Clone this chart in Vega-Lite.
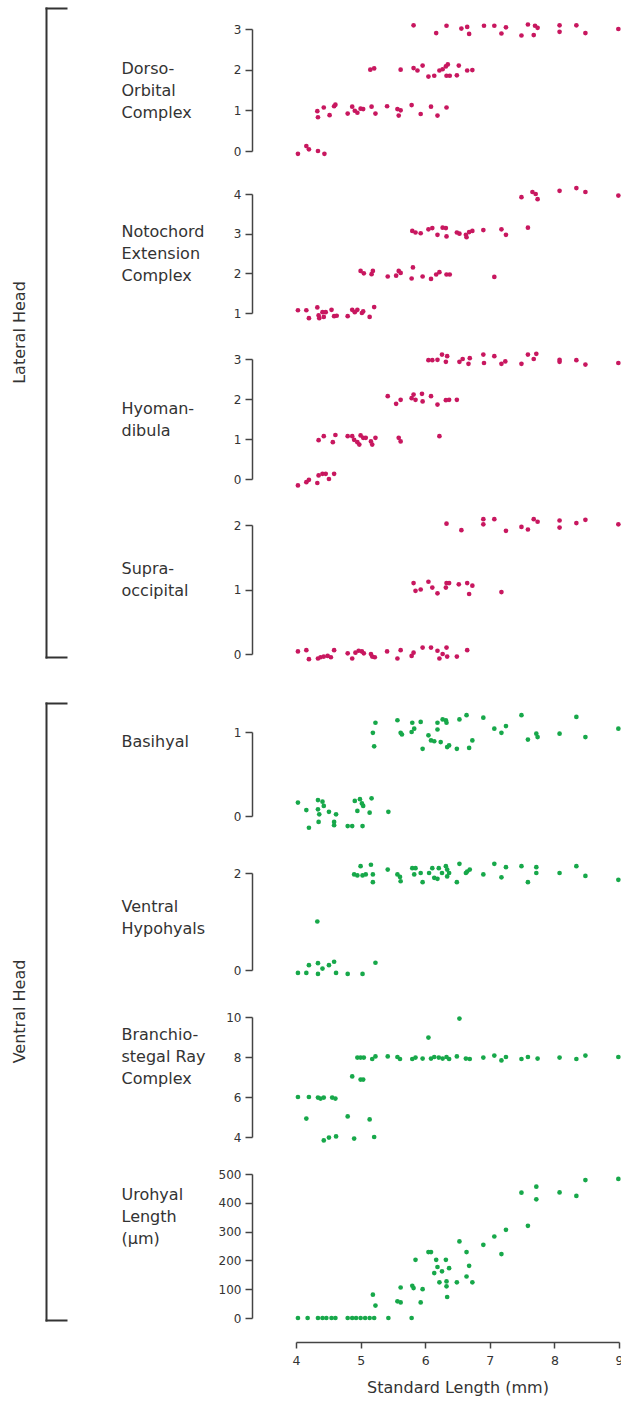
{
"$schema": "https://vega.github.io/schema/vega-lite/v6.json",
"padding": 0,
"background": "white",
"bounds": "flush",
"spacing": 296,
"resolve": {"scale": {"x": "independent", "y": "independent"}},
"config": {
  "view": {"stroke": null},
  "axis": {"labelFont": "DejaVu Sans", "labelFontSize": 12, "labelColor": "#333", "titleFont": "DejaVu Sans", "titleFontSize": 16, "titleFontWeight": "normal", "titleColor": "#333", "grid": false},
  "circle": {"size": 22, "opacity": 1}
},
"datasets": {
  "dorso": [{"sl":5.82,"val":3.09},{"sl":6.17,"val":2.90},{"sl":6.33,"val":3.08},{"sl":6.56,"val":3.01},{"sl":6.65,"val":3.05},{"sl":6.68,"val":2.88},{"sl":6.91,"val":3.08},{"sl":7.07,"val":3.08},{"sl":7.18,"val":2.89},{"sl":7.25,"val":3.04},{"sl":7.49,"val":2.84},{"sl":7.59,"val":3.11},{"sl":7.68,"val":2.85},{"sl":7.70,"val":3.08},{"sl":7.74,"val":3.03},{"sl":8.08,"val":3.09},{"sl":8.08,"val":2.93},{"sl":8.34,"val":3.09},{"sl":8.48,"val":2.90},{"sl":8.99,"val":3.00},
    {"sl":5.15,"val":2.00},{"sl":5.21,"val":2.03},{"sl":5.62,"val":2.00},{"sl":5.82,"val":2.04},{"sl":5.88,"val":1.98},{"sl":5.96,"val":2.10},{"sl":6.05,"val":1.83},{"sl":6.14,"val":1.85},{"sl":6.22,"val":1.98},{"sl":6.27,"val":2.01},{"sl":6.32,"val":2.08},{"sl":6.35,"val":2.13},{"sl":6.33,"val":1.85},{"sl":6.38,"val":1.85},{"sl":6.49,"val":1.86},{"sl":6.52,"val":2.10},{"sl":6.65,"val":1.98},{"sl":6.73,"val":1.99},
    {"sl":4.33,"val":0.98},{"sl":4.34,"val":0.83},{"sl":4.43,"val":1.07},{"sl":4.52,"val":0.88},{"sl":4.59,"val":1.10},{"sl":4.61,"val":1.14},{"sl":4.80,"val":0.92},{"sl":4.87,"val":1.09},{"sl":4.91,"val":0.99},{"sl":4.95,"val":0.94},{"sl":5.00,"val":1.04},{"sl":5.04,"val":1.03},{"sl":5.17,"val":1.09},{"sl":5.23,"val":0.92},{"sl":5.41,"val":1.10},{"sl":5.57,"val":1.03},{"sl":5.59,"val":0.87},{"sl":5.62,"val":1.00},{"sl":5.79,"val":1.13},{"sl":5.93,"val":0.91},{"sl":6.09,"val":1.09},{"sl":6.19,"val":0.87},{"sl":6.33,"val":1.07},
    {"sl":4.03,"val":-0.07},{"sl":4.16,"val":0.12},{"sl":4.20,"val":0.04},{"sl":4.34,"val":0.00},{"sl":4.44,"val":-0.07}],
  "noto": [{"sl":7.49,"val":3.92},{"sl":7.66,"val":4.05},{"sl":7.71,"val":4.00},{"sl":7.74,"val":3.87},{"sl":8.08,"val":4.08},{"sl":8.34,"val":4.15},{"sl":8.48,"val":4.05},{"sl":8.99,"val":3.96},
    {"sl":7.59,"val":3.15},{"sl":5.80,"val":3.07},{"sl":5.85,"val":3.03},{"sl":5.93,"val":3.01},{"sl":6.05,"val":3.11},{"sl":6.11,"val":3.14},{"sl":6.19,"val":2.97},{"sl":6.27,"val":3.15},{"sl":6.32,"val":3.14},{"sl":6.33,"val":2.93},{"sl":6.49,"val":3.03},{"sl":6.53,"val":3.00},{"sl":6.63,"val":2.97},{"sl":6.64,"val":2.91},{"sl":6.68,"val":3.04},{"sl":6.73,"val":3.07},{"sl":6.90,"val":3.09},{"sl":7.18,"val":3.11},{"sl":7.25,"val":2.97},
    {"sl":5.00,"val":2.06},{"sl":5.05,"val":2.00},{"sl":5.17,"val":1.98},{"sl":5.19,"val":2.06},{"sl":5.42,"val":1.92},{"sl":5.55,"val":1.94},{"sl":5.59,"val":2.06},{"sl":5.62,"val":2.01},{"sl":5.79,"val":1.87},{"sl":5.81,"val":2.15},{"sl":5.96,"val":1.92},{"sl":6.09,"val":1.86},{"sl":6.17,"val":1.97},{"sl":6.22,"val":2.03},{"sl":6.33,"val":1.97},{"sl":6.38,"val":1.97},{"sl":7.07,"val":1.91},
    {"sl":4.03,"val":1.07},{"sl":4.16,"val":1.07},{"sl":4.20,"val":0.87},{"sl":4.33,"val":1.14},{"sl":4.35,"val":0.94},{"sl":4.36,"val":0.87},{"sl":4.41,"val":1.02},{"sl":4.43,"val":0.90},{"sl":4.46,"val":1.02},{"sl":4.55,"val":1.08},{"sl":4.59,"val":0.92},{"sl":4.63,"val":0.93},{"sl":4.80,"val":0.92},{"sl":4.87,"val":1.08},{"sl":4.91,"val":1.02},{"sl":4.95,"val":1.08},{"sl":5.02,"val":1.00},{"sl":5.04,"val":1.04},{"sl":5.14,"val":0.90},{"sl":5.21,"val":1.15}],
  "hyo": [{"sl":6.05,"val":2.97},{"sl":6.11,"val":2.97},{"sl":6.19,"val":2.98},{"sl":6.26,"val":3.11},{"sl":6.32,"val":2.93},{"sl":6.34,"val":3.07},{"sl":6.53,"val":2.93},{"sl":6.58,"val":3.00},{"sl":6.67,"val":2.88},{"sl":6.69,"val":3.02},{"sl":6.90,"val":3.11},{"sl":6.91,"val":2.90},{"sl":7.07,"val":3.07},{"sl":7.18,"val":2.88},{"sl":7.24,"val":2.94},{"sl":7.49,"val":2.88},{"sl":7.59,"val":3.11},{"sl":7.68,"val":3.00},{"sl":7.72,"val":3.13},{"sl":8.08,"val":2.98},{"sl":8.08,"val":2.93},{"sl":8.34,"val":2.97},{"sl":8.48,"val":2.86},{"sl":8.99,"val":2.90},
    {"sl":5.42,"val":2.07},{"sl":5.55,"val":1.88},{"sl":5.62,"val":1.98},{"sl":5.79,"val":2.02},{"sl":5.82,"val":2.11},{"sl":5.85,"val":1.98},{"sl":5.95,"val":2.13},{"sl":5.96,"val":1.94},{"sl":6.09,"val":2.07},{"sl":6.19,"val":1.86},{"sl":6.32,"val":1.97},{"sl":6.37,"val":1.98},{"sl":6.49,"val":1.98},
    {"sl":4.35,"val":0.97},{"sl":4.43,"val":1.07},{"sl":4.57,"val":0.92},{"sl":4.61,"val":1.10},{"sl":4.80,"val":1.07},{"sl":4.87,"val":1.07},{"sl":4.90,"val":0.98},{"sl":4.95,"val":0.92},{"sl":4.98,"val":0.86},{"sl":5.00,"val":1.09},{"sl":5.04,"val":1.03},{"sl":5.08,"val":1.03},{"sl":5.16,"val":0.94},{"sl":5.18,"val":0.86},{"sl":5.23,"val":1.03},{"sl":5.59,"val":1.03},{"sl":5.62,"val":0.94},{"sl":6.22,"val":1.07},
    {"sl":4.03,"val":-0.16},{"sl":4.16,"val":-0.08},{"sl":4.20,"val":-0.02},{"sl":4.33,"val":-0.10},{"sl":4.35,"val":0.09},{"sl":4.41,"val":0.13},{"sl":4.46,"val":0.13},{"sl":4.51,"val":0.00},{"sl":4.59,"val":0.13}],
  "supra": [{"sl":6.33,"val":2.02},{"sl":6.56,"val":1.92},{"sl":6.90,"val":2.09},{"sl":6.90,"val":2.01},{"sl":7.07,"val":2.09},{"sl":7.25,"val":1.91},{"sl":7.49,"val":1.97},{"sl":7.59,"val":1.93},{"sl":7.68,"val":2.09},{"sl":7.74,"val":2.05},{"sl":8.08,"val":2.07},{"sl":8.08,"val":1.96},{"sl":8.34,"val":2.03},{"sl":8.48,"val":2.08},{"sl":8.99,"val":2.01},
    {"sl":5.82,"val":1.10},{"sl":5.85,"val":0.98},{"sl":5.93,"val":1.00},{"sl":6.05,"val":1.12},{"sl":6.11,"val":1.03},{"sl":6.19,"val":0.94},{"sl":6.32,"val":1.03},{"sl":6.33,"val":1.10},{"sl":6.37,"val":1.10},{"sl":6.52,"val":1.08},{"sl":6.65,"val":1.10},{"sl":6.68,"val":0.93},{"sl":6.73,"val":1.06},{"sl":7.18,"val":0.96},
    {"sl":4.03,"val":0.04},{"sl":4.16,"val":0.06},{"sl":4.20,"val":-0.08},{"sl":4.34,"val":-0.07},{"sl":4.38,"val":-0.05},{"sl":4.43,"val":-0.04},{"sl":4.49,"val":-0.03},{"sl":4.54,"val":-0.05},{"sl":4.59,"val":0.06},{"sl":4.80,"val":0.01},{"sl":4.87,"val":-0.07},{"sl":4.92,"val":0.02},{"sl":4.97,"val":0.05},{"sl":5.02,"val":0.04},{"sl":5.05,"val":0.01},{"sl":5.16,"val":0.00},{"sl":5.18,"val":-0.04},{"sl":5.22,"val":-0.05},{"sl":5.41,"val":0.04},{"sl":5.57,"val":-0.07},{"sl":5.62,"val":0.06},{"sl":5.79,"val":-0.03},{"sl":5.82,"val":0.02},{"sl":5.96,"val":0.10},{"sl":6.09,"val":0.10},{"sl":6.19,"val":0.05},{"sl":6.22,"val":-0.07},{"sl":6.27,"val":0.00},{"sl":6.33,"val":0.10},{"sl":6.34,"val":-0.04},{"sl":6.49,"val":-0.04},{"sl":6.65,"val":0.06}],
  "basi": [{"sl":5.23,"val":1.11},{"sl":5.19,"val":0.99},{"sl":5.21,"val":0.83},{"sl":5.57,"val":1.14},{"sl":5.62,"val":0.99},{"sl":5.64,"val":0.97},{"sl":5.80,"val":1.11},{"sl":5.79,"val":1.00},{"sl":5.83,"val":1.04},{"sl":5.93,"val":1.12},{"sl":5.96,"val":0.80},{"sl":6.05,"val":0.96},{"sl":6.09,"val":0.90},{"sl":6.14,"val":0.89},{"sl":6.19,"val":1.11},{"sl":6.19,"val":1.03},{"sl":6.24,"val":0.88},{"sl":6.27,"val":1.15},{"sl":6.32,"val":1.14},{"sl":6.33,"val":1.11},{"sl":6.34,"val":0.82},{"sl":6.37,"val":0.84},{"sl":6.49,"val":0.80},{"sl":6.53,"val":1.15},{"sl":6.64,"val":1.20},{"sl":6.68,"val":0.81},{"sl":6.73,"val":0.90},{"sl":6.90,"val":1.17},{"sl":7.07,"val":1.04},{"sl":7.18,"val":0.99},{"sl":7.25,"val":1.07},{"sl":7.49,"val":1.20},{"sl":7.59,"val":0.91},{"sl":7.72,"val":0.98},{"sl":7.74,"val":0.94},{"sl":8.08,"val":0.98},{"sl":8.34,"val":1.18},{"sl":8.48,"val":0.94},{"sl":8.99,"val":1.04},
    {"sl":4.03,"val":0.16},{"sl":4.16,"val":0.07},{"sl":4.20,"val":-0.14},{"sl":4.34,"val":0.19},{"sl":4.34,"val":0.08},{"sl":4.36,"val":0.02},{"sl":4.35,"val":-0.07},{"sl":4.41,"val":0.17},{"sl":4.43,"val":0.12},{"sl":4.51,"val":0.05},{"sl":4.59,"val":-0.11},{"sl":4.59,"val":-0.07},{"sl":4.62,"val":0.02},{"sl":4.80,"val":-0.12},{"sl":4.87,"val":-0.12},{"sl":4.91,"val":0.18},{"sl":4.95,"val":0.06},{"sl":4.99,"val":0.20},{"sl":5.02,"val":0.15},{"sl":5.03,"val":-0.12},{"sl":5.04,"val":0.12},{"sl":5.14,"val":0.04},{"sl":5.17,"val":0.21},{"sl":5.43,"val":0.05}],
  "hypo": [{"sl":4.90,"val":1.97},{"sl":4.95,"val":1.95},{"sl":5.00,"val":2.14},{"sl":5.03,"val":1.95},{"sl":5.08,"val":1.97},{"sl":5.16,"val":2.17},{"sl":5.19,"val":1.97},{"sl":5.19,"val":1.81},{"sl":5.42,"val":2.07},{"sl":5.57,"val":1.97},{"sl":5.61,"val":1.92},{"sl":5.62,"val":1.83},{"sl":5.80,"val":2.10},{"sl":5.83,"val":1.97},{"sl":5.85,"val":2.10},{"sl":5.93,"val":2.00},{"sl":5.96,"val":1.81},{"sl":6.06,"val":2.00},{"sl":6.11,"val":2.10},{"sl":6.14,"val":1.90},{"sl":6.19,"val":1.88},{"sl":6.21,"val":2.10},{"sl":6.26,"val":2.00},{"sl":6.32,"val":2.14},{"sl":6.34,"val":2.07},{"sl":6.34,"val":1.93},{"sl":6.37,"val":2.00},{"sl":6.49,"val":1.81},{"sl":6.53,"val":2.19},{"sl":6.63,"val":2.00},{"sl":6.65,"val":2.03},{"sl":6.69,"val":2.07},{"sl":6.90,"val":1.97},{"sl":7.07,"val":2.19},{"sl":7.18,"val":1.91},{"sl":7.25,"val":2.12},{"sl":7.49,"val":2.14},{"sl":7.59,"val":1.81},{"sl":7.72,"val":2.12},{"sl":7.72,"val":2.00},{"sl":8.08,"val":2.00},{"sl":8.34,"val":2.14},{"sl":8.48,"val":1.94},{"sl":8.99,"val":1.86},
    {"sl":4.33,"val":1.00},
    {"sl":4.03,"val":-0.06},{"sl":4.16,"val":-0.06},{"sl":4.20,"val":0.10},{"sl":4.34,"val":0.14},{"sl":4.34,"val":-0.08},{"sl":4.41,"val":0.03},{"sl":4.51,"val":0.10},{"sl":4.59,"val":0.17},{"sl":4.62,"val":-0.06},{"sl":4.80,"val":-0.08},{"sl":5.03,"val":-0.08},{"sl":5.23,"val":0.15}],
  "bsr": [{"sl":6.53,"val":9.92},{"sl":6.05,"val":8.97},
    {"sl":4.95,"val":7.97},{"sl":5.00,"val":7.97},{"sl":5.05,"val":7.97},{"sl":5.18,"val":7.90},{"sl":5.23,"val":8.03},{"sl":5.42,"val":8.03},{"sl":5.57,"val":8.00},{"sl":5.61,"val":7.90},{"sl":5.80,"val":7.90},{"sl":5.85,"val":7.97},{"sl":5.96,"val":7.92},{"sl":6.09,"val":7.92},{"sl":6.14,"val":8.00},{"sl":6.21,"val":7.97},{"sl":6.27,"val":7.92},{"sl":6.33,"val":8.00},{"sl":6.37,"val":7.90},{"sl":6.49,"val":8.03},{"sl":6.63,"val":7.92},{"sl":6.69,"val":7.90},{"sl":6.90,"val":7.97},{"sl":7.07,"val":8.07},{"sl":7.18,"val":7.83},{"sl":7.25,"val":8.00},{"sl":7.49,"val":7.90},{"sl":7.59,"val":8.00},{"sl":7.74,"val":7.92},{"sl":8.08,"val":7.97},{"sl":8.34,"val":7.90},{"sl":8.48,"val":8.07},{"sl":8.99,"val":8.00},
    {"sl":4.87,"val":7.03},{"sl":5.00,"val":6.87},{"sl":5.04,"val":6.87},
    {"sl":4.03,"val":6.00},{"sl":4.20,"val":6.00},{"sl":4.34,"val":5.97},{"sl":4.38,"val":5.92},{"sl":4.43,"val":5.97},{"sl":4.56,"val":5.97},{"sl":4.61,"val":5.92},
    {"sl":4.16,"val":4.92},{"sl":4.80,"val":5.03},{"sl":5.14,"val":4.88},
    {"sl":4.43,"val":3.83},{"sl":4.51,"val":3.97},{"sl":4.62,"val":4.03},{"sl":4.90,"val":3.92},{"sl":5.21,"val":4.00}],
  "uro": [{"sl":4.03,"val":0},{"sl":4.18,"val":0},{"sl":4.34,"val":0},{"sl":4.41,"val":0},{"sl":4.47,"val":0},{"sl":4.55,"val":0},{"sl":4.61,"val":0},{"sl":4.80,"val":0},{"sl":4.87,"val":0},{"sl":4.93,"val":0},{"sl":5.00,"val":0},{"sl":5.07,"val":0},{"sl":5.14,"val":0},{"sl":5.21,"val":0},{"sl":5.43,"val":0},{"sl":5.79,"val":0},
    {"sl":5.19,"val":81},{"sl":5.23,"val":43},{"sl":5.57,"val":58},{"sl":5.62,"val":54},{"sl":5.62,"val":106},{"sl":5.80,"val":112},{"sl":5.82,"val":104},{"sl":5.85,"val":202},{"sl":5.96,"val":100},{"sl":5.93,"val":54},{"sl":6.05,"val":229},{"sl":6.09,"val":229},{"sl":6.14,"val":156},{"sl":6.17,"val":202},{"sl":6.19,"val":177},{"sl":6.26,"val":162},{"sl":6.22,"val":124},{"sl":6.32,"val":202},{"sl":6.33,"val":127},{"sl":6.33,"val":110},{"sl":6.34,"val":73},{"sl":6.37,"val":173},{"sl":6.49,"val":124},{"sl":6.53,"val":266},{"sl":6.64,"val":229},{"sl":6.64,"val":144},{"sl":6.68,"val":181},{"sl":6.73,"val":124},{"sl":6.90,"val":254},{"sl":7.07,"val":283},{"sl":7.18,"val":222},{"sl":7.25,"val":306},{"sl":7.49,"val":435},{"sl":7.59,"val":320},{"sl":7.72,"val":456},{"sl":7.72,"val":412},{"sl":8.08,"val":436},{"sl":8.34,"val":424},{"sl":8.48,"val":479},{"sl":8.99,"val":483}]
},
"hconcat": [
  {"vconcat": [
    {"width": 40, "height": 703,
     "data": {"values": [{"group": "Lateral Head"}]},
     "mark": {"type": "text", "angle": 270, "fontSize": 16, "font": "DejaVu Sans", "color": "#333"},
     "encoding": {
       "text": {"field": "group"},
       "y": {"datum": 0.5, "type": "quantitative", "scale": {"domain": [0, 1], "range": [657, 8], "nice": false, "zero": false},
             "axis": {"orient": "right", "offset": 6, "values": [0, 1], "labels": false, "title": null, "tickSize": 20, "tickWidth": 2, "domainWidth": 2, "domainColor": "#333", "tickColor": "#333", "tickCap": "square", "domainCap": "square"}}
     }},
    {"width": 40, "height": 639,
     "data": {"values": [{"group": "Ventral Head"}]},
     "mark": {"type": "text", "angle": 270, "fontSize": 16, "font": "DejaVu Sans", "color": "#333"},
     "encoding": {
       "text": {"field": "group"},
       "y": {"datum": 0.5, "type": "quantitative", "scale": {"domain": [0, 1], "range": [617, 0], "nice": false, "zero": false},
             "axis": {"orient": "right", "offset": 6, "values": [0, 1], "labels": false, "title": null, "tickSize": 20, "tickWidth": 2, "domainWidth": 2, "domainColor": "#333", "tickColor": "#333", "tickCap": "square", "domainCap": "square"}}
     }}
  ], "spacing": 0, "bounds": "flush", "resolve": {"scale": {"y": "independent"}}},
  {"vconcat": [
    {"width": 323, "height": 194, "data": {"name": "dorso"}, "mark": {"type": "circle", "color": "#c8175f"},
     "encoding": {"x": {"field": "sl", "type": "quantitative", "scale": {"domain": [4, 9], "nice": false, "zero": false}, "axis": null},
       "y": {"field": "val", "type": "quantitative", "scale": {"domain": [0, 3], "range": [151, 29], "nice": false, "zero": false}, "axis": {"orient": "left", "offset": 44, "values": [0, 1, 2, 3], "format": "d", "labelOverlap": false, "tickSize": 7, "labelPadding": 4, "tickWidth": 1.5, "domainWidth": 1.5, "domainColor": "#444", "tickColor": "#444", "titleAngle": 0, "titleAlign": "left", "titleBaseline": "middle", "titleLineHeight": 22, "titleX": -131, "title": ["Dorso-", "Orbital", "Complex"], "titleY": 68}}}},
    {"width": 323, "height": 165, "data": {"name": "noto"}, "mark": {"type": "circle", "color": "#c8175f"},
     "encoding": {"x": {"field": "sl", "type": "quantitative", "scale": {"domain": [4, 9], "nice": false, "zero": false}, "axis": null},
       "y": {"field": "val", "type": "quantitative", "scale": {"domain": [1, 4], "range": [119, 0], "nice": false, "zero": false}, "axis": {"orient": "left", "offset": 44, "values": [1, 2, 3, 4], "format": "d", "labelOverlap": false, "tickSize": 7, "labelPadding": 4, "tickWidth": 1.5, "domainWidth": 1.5, "domainColor": "#444", "tickColor": "#444", "titleAngle": 0, "titleAlign": "left", "titleBaseline": "middle", "titleLineHeight": 22, "titleX": -131, "title": ["Notochord", "Extension", "Complex"], "titleY": 37}}}},
    {"width": 323, "height": 166, "data": {"name": "hyo"}, "mark": {"type": "circle", "color": "#c8175f"},
     "encoding": {"x": {"field": "sl", "type": "quantitative", "scale": {"domain": [4, 9], "nice": false, "zero": false}, "axis": null},
       "y": {"field": "val", "type": "quantitative", "scale": {"domain": [0, 3], "range": [120, 0], "nice": false, "zero": false}, "axis": {"orient": "left", "offset": 44, "values": [0, 1, 2, 3], "format": "d", "labelOverlap": false, "tickSize": 7, "labelPadding": 4, "tickWidth": 1.5, "domainWidth": 1.5, "domainColor": "#444", "tickColor": "#444", "titleAngle": 0, "titleAlign": "left", "titleBaseline": "middle", "titleLineHeight": 22, "titleX": -131, "title": ["Hyoman-", "dibula"], "titleY": 49}}}},
    {"width": 323, "height": 207, "data": {"name": "supra"}, "mark": {"type": "circle", "color": "#c8175f"},
     "encoding": {"x": {"field": "sl", "type": "quantitative", "scale": {"domain": [4, 9], "nice": false, "zero": false}, "axis": null},
       "y": {"field": "val", "type": "quantitative", "scale": {"domain": [0, 2], "range": [129, 0], "nice": false, "zero": false}, "axis": {"orient": "left", "offset": 44, "values": [0, 1, 2], "tickCount": 3, "labelExpr": "'' + round(datum.value)", "labelOverlap": false, "tickSize": 7, "labelPadding": 4, "tickWidth": 1.5, "domainWidth": 1.5, "domainColor": "#444", "tickColor": "#444", "titleAngle": 0, "titleAlign": "left", "titleBaseline": "middle", "titleLineHeight": 22, "titleX": -131, "title": ["Supra-", "occipital"], "titleY": 43}}}},
    {"width": 323, "height": 141, "data": {"name": "basi"}, "mark": {"type": "circle", "color": "#17a84a"},
     "encoding": {"x": {"field": "sl", "type": "quantitative", "scale": {"domain": [4, 9], "nice": false, "zero": false}, "axis": null},
       "y": {"field": "val", "type": "quantitative", "scale": {"domain": [0, 1], "range": [84, 0], "nice": false, "zero": false}, "axis": {"orient": "left", "offset": 44, "values": [0, 1], "format": "d", "labelOverlap": false, "tickSize": 7, "labelPadding": 4, "tickWidth": 1.5, "domainWidth": 1.5, "domainColor": "#444", "tickColor": "#444", "titleAngle": 0, "titleAlign": "left", "titleBaseline": "middle", "titleLineHeight": 22, "titleX": -131, "title": "Basihyal", "titleY": 9}}}},
    {"width": 323, "height": 144, "data": {"name": "hypo"}, "mark": {"type": "circle", "color": "#17a84a"},
     "encoding": {"x": {"field": "sl", "type": "quantitative", "scale": {"domain": [4, 9], "nice": false, "zero": false}, "axis": null},
       "y": {"field": "val", "type": "quantitative", "scale": {"domain": [0, 2], "range": [97, 0], "nice": false, "zero": false}, "axis": {"orient": "left", "offset": 44, "values": [0, 2], "format": "d", "labelOverlap": false, "tickSize": 7, "labelPadding": 4, "tickWidth": 1.5, "domainWidth": 1.5, "domainColor": "#444", "tickColor": "#444", "titleAngle": 0, "titleAlign": "left", "titleBaseline": "middle", "titleLineHeight": 22, "titleX": -131, "title": ["Ventral", "Hypohyals"], "titleY": 33}}}},
    {"width": 323, "height": 157, "data": {"name": "bsr"}, "mark": {"type": "circle", "color": "#17a84a"},
     "encoding": {"x": {"field": "sl", "type": "quantitative", "scale": {"domain": [4, 9], "nice": false, "zero": false}, "axis": null},
       "y": {"field": "val", "type": "quantitative", "scale": {"domain": [4, 10], "range": [120, 0], "nice": false, "zero": false}, "axis": {"orient": "left", "offset": 44, "values": [4, 6, 8, 10], "format": "d", "labelOverlap": false, "tickSize": 7, "labelPadding": 4, "tickWidth": 1.5, "domainWidth": 1.5, "domainColor": "#444", "tickColor": "#444", "titleAngle": 0, "titleAlign": "left", "titleBaseline": "middle", "titleLineHeight": 22, "titleX": -131, "title": ["Branchio-", "stegal Ray", "Complex"], "titleY": 17}}}},
    {"width": 323, "height": 168, "data": {"name": "uro"}, "mark": {"type": "circle", "color": "#17a84a"},
     "encoding": {"x": {"field": "sl", "type": "quantitative", "scale": {"domain": [4, 9], "nice": false, "zero": false},
         "axis": {"values": [4, 4.5, 5, 5.5, 6, 6.5, 7, 7.5, 8, 8.5, 9], "format": "d", "labelExpr": "datum.value % 1 === 0 ? datum.label : ''", "labelFlush": false, "labelOverlap": false, "tickSize": {"condition": {"test": "datum.value % 1 !== 0", "value": 4}, "value": 6}, "tickWidth": 1.5, "domainWidth": 1.5, "domainColor": "#444", "tickColor": "#444", "labelPadding": 6, "labelFontSize": 12.5, "title": "Standard Length (mm)", "titlePadding": 13}},
       "y": {"field": "val", "type": "quantitative", "scale": {"domain": [0, 500], "range": [144, 0], "nice": false, "zero": false}, "axis": {"orient": "left", "offset": 44, "values": [0, 100, 200, 300, 400, 500], "format": "d", "labelOverlap": false, "tickSize": 7, "labelPadding": 4, "tickWidth": 1.5, "domainWidth": 1.5, "domainColor": "#444", "tickColor": "#444", "titleAngle": 0, "titleAlign": "left", "titleBaseline": "middle", "titleLineHeight": 22, "titleX": -131, "title": ["Urohyal", "Length", "(µm)"], "titleY": 20}}}}
  ], "spacing": 0, "bounds": "flush", "resolve": {"scale": {"x": "independent", "y": "independent"}}}
]
}
